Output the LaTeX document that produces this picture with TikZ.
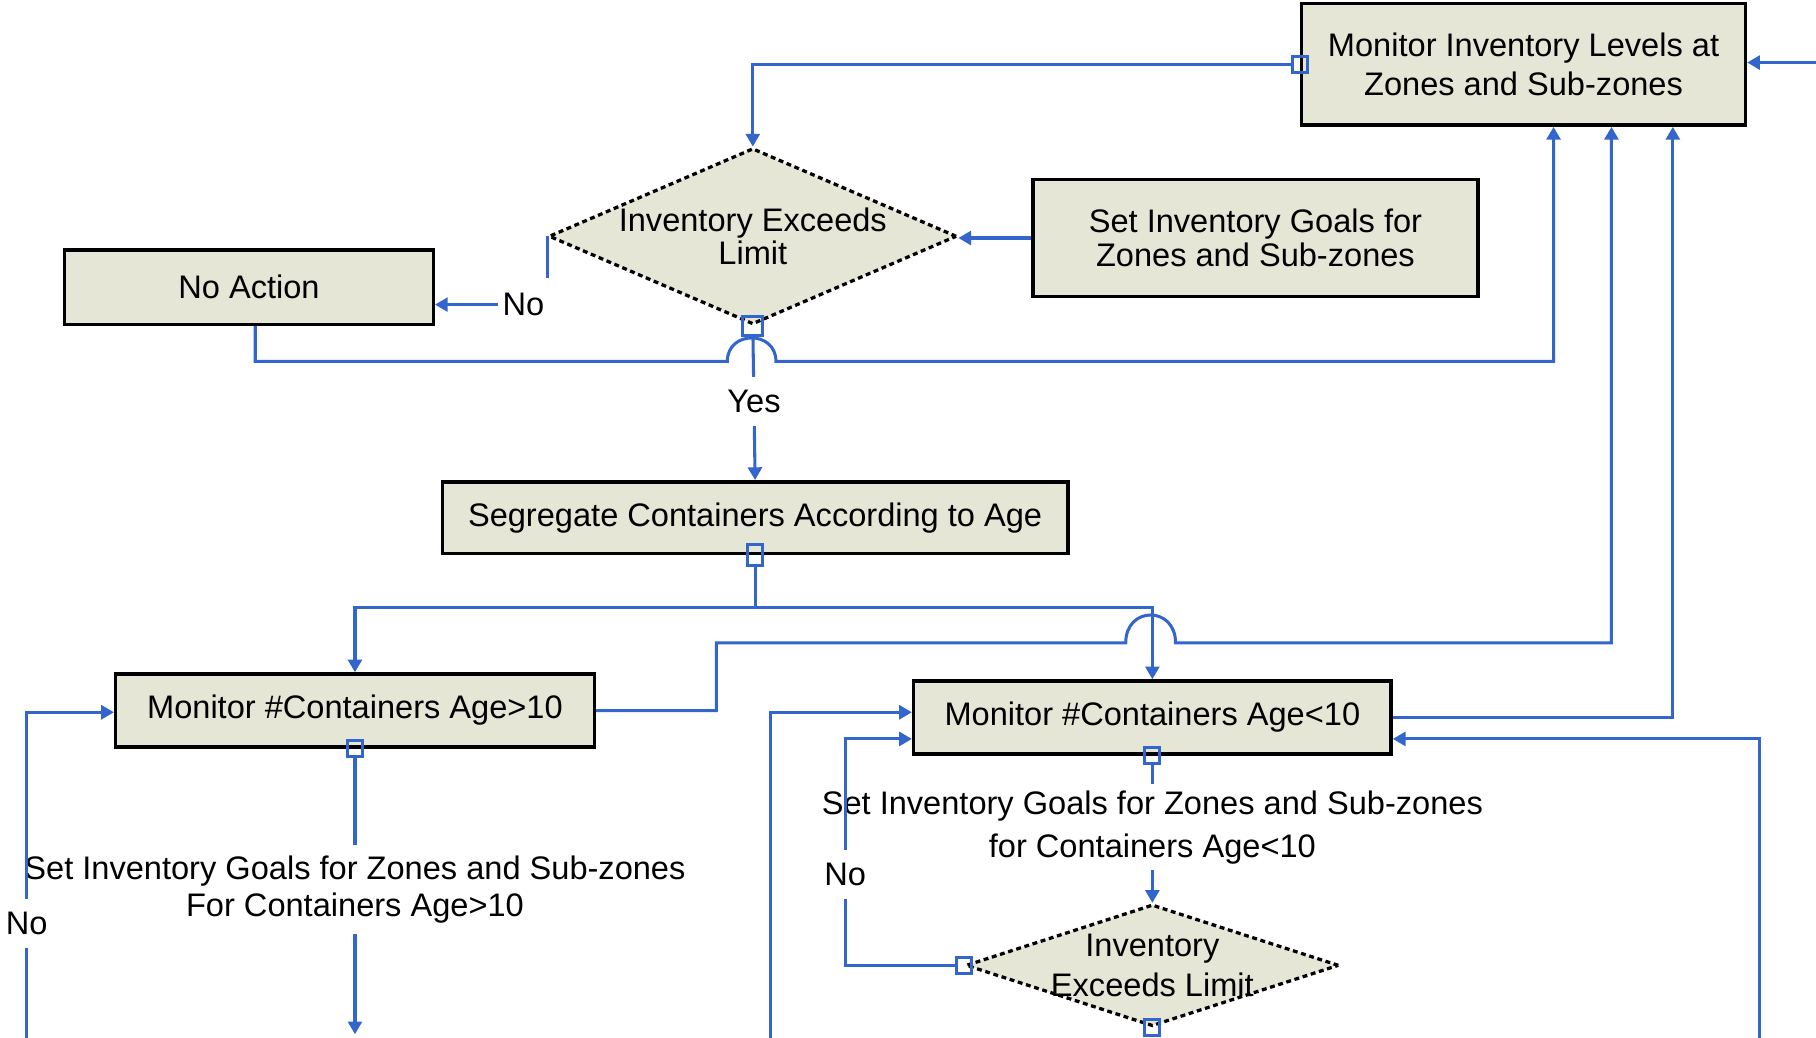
\documentclass[tikz,border=0pt]{standalone}
\usepackage{fontspec}
\setmainfont{Liberation Sans}
\usetikzlibrary{shapes.geometric,arrows.meta,calc}
\definecolor{flowblue}{RGB}{51,102,204}
\definecolor{boxfill}{RGB}{230,230,214}

\begin{document}
\begin{tikzpicture}[x=0.01cm,y=-0.01cm,
  font=\fontsize{8}{9.7}\selectfont,
  procbox/.style={draw=black,line width=0.85pt,fill=boxfill,inner sep=0pt,align=center},
  decbox/.style={shape=diamond,draw=black,line width=0.8pt,dash pattern=on 1.2pt off 0.9pt,fill=boxfill,inner sep=0pt},
  flow/.style={draw=flowblue,line width=0.75pt},
  arr/.style={-{Triangle[length=0.11cm,width=0.12cm]}},
  port/.style={draw=flowblue,line width=0.75pt,minimum width=0.13cm,minimum height=0.14cm,inner sep=0pt},
  lbl/.style={fill=white,inner sep=1pt,align=center}
]
\fill[white] (0,0) rectangle (1568,896);
\useasboundingbox (0,0) rectangle (1568,896);

% process boxes
\node[procbox,minimum width=3.83cm,minimum height=1.05cm] (top) at (1315.5,55.5)
  {Monitor Inventory Levels at\\Zones and Sub-zones};
\node[procbox,minimum width=3.84cm,minimum height=1.01cm] (set) at (1084,205.5)
  {Set Inventory Goals for\\[-1.5pt]Zones and Sub-zones};
\node[procbox,minimum width=3.18cm,minimum height=0.64cm] (noact) at (215,248) {No Action};
\node[procbox,minimum width=5.40cm,minimum height=0.62cm] (seg) at (652,447)
  {Segregate Containers According to Age};
\node[procbox,minimum width=4.13cm,minimum height=0.63cm] (mgt) at (306.5,613.5)
  {Monitor \#Containers Age>10};
\node[procbox,minimum width=4.12cm,minimum height=0.63cm] (mlt) at (995,619.5)
  {Monitor \#Containers Age<10};

% decisions
\node[decbox,minimum width=3.52cm,minimum height=1.52cm] (d1) at (650,204) {};
\node[align=center] (d1t) at (d1) {Inventory Exceeds\\[-1.5pt]Limit};
\node[decbox,minimum width=3.22cm,minimum height=1.05cm] (d2) at (995,833.5) {};
\node[align=center] (d2t) at (d2) {Inventory\\Exceeds Limit};

% ports
\node[port] (ptop) at (top.west) {};
\node[port,minimum width=0.17cm,minimum height=0.17cm] (pd1) at (d1.south) {};
\node[port,minimum height=0.18cm] (pseg) at (seg.south) {};
\node[port] (pmgt) at (mgt.south) {};
\node[port] (pmlt) at (mlt.south) {};
\node[port] (pd2) at (d2.west) {};
\node[port] (pd2b) at (d2.south) {};

% entry points along box edges
\coordinate (inA) at ($(top.south west)+(219,0)$);
\coordinate (inB) at ($(top.south west)+(269,0)$);
\coordinate (inC) at ($(top.south west)+(322,0)$);
\coordinate (lin1) at ($(mlt.west)+(0,-4.5)$);
\coordinate (lin2) at ($(mlt.west)+(0,18.5)$);
\coordinate (rin2) at ($(mlt.east)+(0,18.5)$);
\coordinate (gin) at ($(mgt.west)+(0,1.5)$);
\coordinate (rin) at (1568,54);
\coordinate (mgtout) at (306.5,893);
\coordinate (b23) at (23,900);
\coordinate (b665) at (665,900);
\coordinate (b1519) at (1519,900);

% connectors
\draw[flow,arr] (ptop) -| (d1.north);
\draw[flow,arr] (rin) -- (rin -| top.east);
\draw[flow,arr] (set.west) -- (set.west -| d1.east);

\node[inner sep=1pt] (nolbl) at (452,263) {No};
\draw[flow] (d1.west) -- ++(0,36);
\draw[flow,arr] (nolbl.west) -- (nolbl.west -| noact.east);

\draw[flow,arr] (pd1) -- (seg.north) node[lbl,pos=0.45,minimum height=0.42cm] {Yes};

\draw[flow,arr] (noact.south west) ++(166,0) |- (628,312)
  .. controls (628,285) and (670,285) .. (670,312) -| (inA);

\draw[flow,arr] (pseg.south) -- ++(0,35) -| (mgt.north);
\draw[flow,arr] (pseg.south) -- ++(0,35) -| (mlt.north);

\draw[flow,arr] (mgt.east) -- ++(104,0) |- (972,555)
  .. controls (972,523) and (1015,523) .. (1015,555) -| (inB);
\draw[flow,arr] (mlt.east) -| (inC);

\draw[flow,arr] (pmgt) -- (mgtout)
  node[lbl,pos=0.475,minimum height=0.77cm]
  {Set Inventory Goals for Zones and Sub-zones\\[-0.6pt]For Containers Age>10};
\draw[flow,arr] (pmlt) -- (d2.north)
  node[lbl,pos=0.45,minimum height=0.74cm]
  {Set Inventory Goals for Zones and Sub-zones\\[0.8pt]for Containers Age<10};

\draw[flow,arr] (pd2.west) -- ++(-95,0) |- (lin2)
  node[lbl,pos=0.2,minimum height=0.42cm] {No};
\draw[flow,arr] (b665) |- (lin1);
\draw[flow,arr] (b1519) |- (rin2);
\draw[flow,arr] (b23) |- (gin) node[lbl,pos=0.18,minimum height=0.42cm] {No};
\end{tikzpicture}
\end{document}
